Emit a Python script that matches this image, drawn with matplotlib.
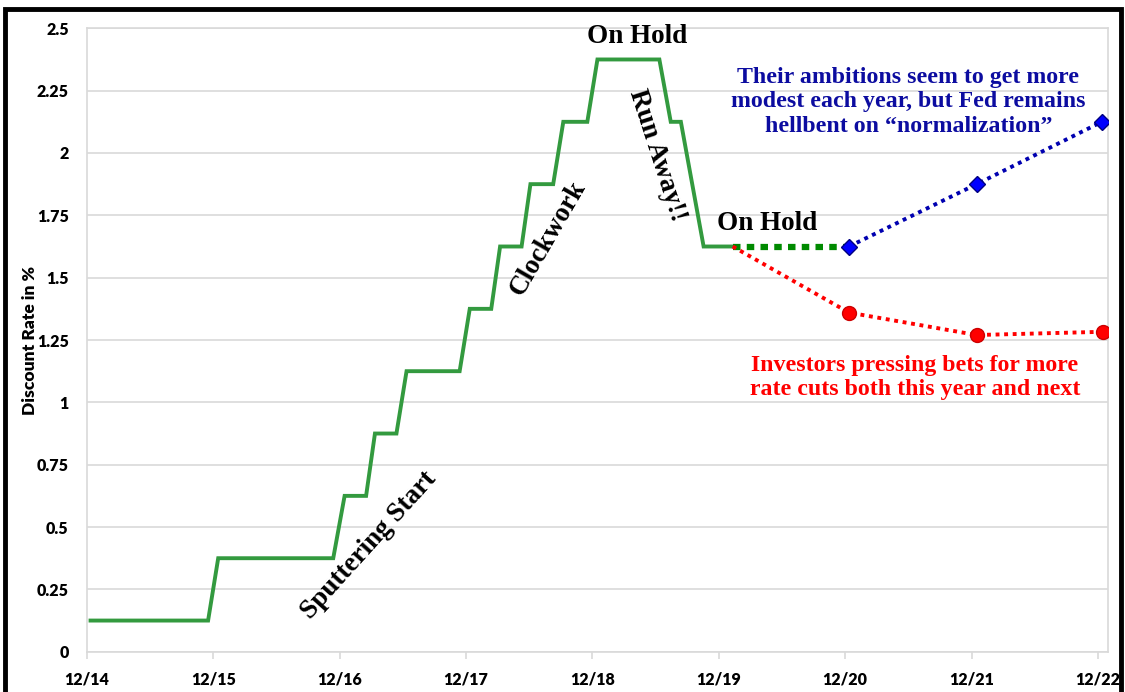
import matplotlib
matplotlib.use("Agg")
import matplotlib.pyplot as plt
from matplotlib.patches import Rectangle

# 연준 기준금리 경로 (x = 12/14 이후 연수)
fed_x = [0.03, 0.96, 1.04, 1.95, 2.04, 2.21, 2.28, 2.45, 2.53, 2.95, 3.03, 3.20,
         3.27, 3.44, 3.51, 3.69, 3.77, 3.96, 4.04, 4.53, 4.62, 4.70, 4.88, 5.11]
fed_y = [0.125, 0.125, 0.375, 0.375, 0.625, 0.625, 0.875, 0.875, 1.125, 1.125, 1.375, 1.375,
         1.625, 1.625, 1.875, 1.875, 2.125, 2.125, 2.375, 2.375, 2.125, 2.125, 1.625, 1.625]

hold_x = [5.11, 6.03]
hold_y = [1.625, 1.625]

dots_x = [6.03, 7.04, 8.03]
dots_y = [1.625, 1.875, 2.125]

market_x = [5.11, 6.03, 7.04, 8.04]
market_y = [1.625, 1.36, 1.27, 1.283]

tick_labels = ["12/14", "12/15", "12/16", "12/17", "12/18", "12/19", "12/20", "12/21", "12/22"]
y_ticks = [0, 0.25, 0.5, 0.75, 1, 1.25, 1.5, 1.75, 2, 2.25, 2.5]
y_labels = ["0", "0.25", "0.5", "0.75", "1", "1.25", "1.5", "1.75", "2", "2.25", "2.5"]

fig = plt.figure(figsize=(11.25, 6.92), dpi=100)
ax = fig.add_axes([0.0771, 0.0582, 0.9079, 0.9009])

grid_c = "#d9d9d9"
ax.set_xlim(0, 8.08)
ax.set_ylim(0, 2.5)
ax.set_yticks(y_ticks)
ax.set_yticklabels(y_labels)
ax.set_xticks(range(len(tick_labels)))
ax.set_xticklabels(tick_labels)
ax.grid(axis="y", color=grid_c, linewidth=1.2)
ax.set_axisbelow(True)
for s in ax.spines.values():
    s.set_color(grid_c)
    s.set_linewidth(1.2)
ax.tick_params(axis="y", length=0, pad=13)
ax.tick_params(axis="x", length=5, color=grid_c, width=1.2, pad=9)
for lab in ax.get_xticklabels() + ax.get_yticklabels():
    lab.set_fontfamily("Lato")
    lab.set_fontweight("heavy")
    lab.set_fontsize(11.5)

# 선 그리기
ax.plot(fed_x, fed_y, color="#339a3f", linewidth=2.8, solid_joinstyle="miter", zorder=3)
ax.plot(hold_x, hold_y, color="#008a00", linewidth=4.5, linestyle=(0, (1.2, 1.0)), zorder=3)
ax.plot(market_x, market_y, color="#ff0000", linewidth=2.8, linestyle=(0, (1, 1.2)), zorder=4)
ax.plot(market_x[1:], market_y[1:], linestyle="none", marker="o", markersize=10,
        color="#ff0000", markeredgecolor="#cc0000", zorder=5)
ax.plot(dots_x, dots_y, color="#0000b0", linewidth=2.8, linestyle=(0, (1, 1.2)), zorder=4)
ax.plot(dots_x, dots_y, linestyle="none", marker="D", markersize=8.5,
        color="#0000ff", markeredgecolor="#000080", zorder=5)

serif = "Liberation Serif"
ax.text(4.355, 2.467, "On Hold", family=serif, weight="bold", fontsize=19.5,
        ha="center", va="center")
ax.text(5.38, 1.718, "On Hold", family=serif, weight="bold", fontsize=19.5,
        ha="center", va="center")
ax.text(3.65, 1.66, "Clockwork", family=serif, weight="bold", fontsize=19.5,
        rotation=60, ha="center", va="center", rotation_mode="anchor")
ax.text(4.51, 1.99, "Run Away!!", family=serif, weight="bold", fontsize=19.5,
        rotation=-72, ha="center", va="center", rotation_mode="anchor")
ax.text(2.23, 0.425, "Sputtering Start", family=serif, weight="bold", fontsize=19.5,
        rotation=48, ha="center", va="center", rotation_mode="anchor")
ax.text(6.50, 2.205, "Their ambitions seem to get more\nmodest each year, but Fed remains\nhellbent on \u201cnormalization\u201d",
        family=serif, weight="bold", fontsize=17.2, color="#0c0ca0",
        ha="center", va="center", linespacing=1.22)
ax.text(6.55, 1.10, "Investors pressing bets for more\nrate cuts both this year and next",
        family=serif, weight="bold", fontsize=17.2, color="#ff0000",
        ha="center", va="center", linespacing=1.22)

fig.text(30 / 1125, 1 - 340 / 692, "Discount Rate in %", family="Lato", weight="heavy",
         fontsize=12.5, rotation=90, ha="center", va="center")

# 바깥 검은 테두리
fig.patches.append(Rectangle((5 / 1125, -0.1), 1116 / 1125, 1.1 - 9 / 692,
                             transform=fig.transFigure, fill=False,
                             edgecolor="black", linewidth=3.5))

fig.savefig("out.png", dpi=100)
